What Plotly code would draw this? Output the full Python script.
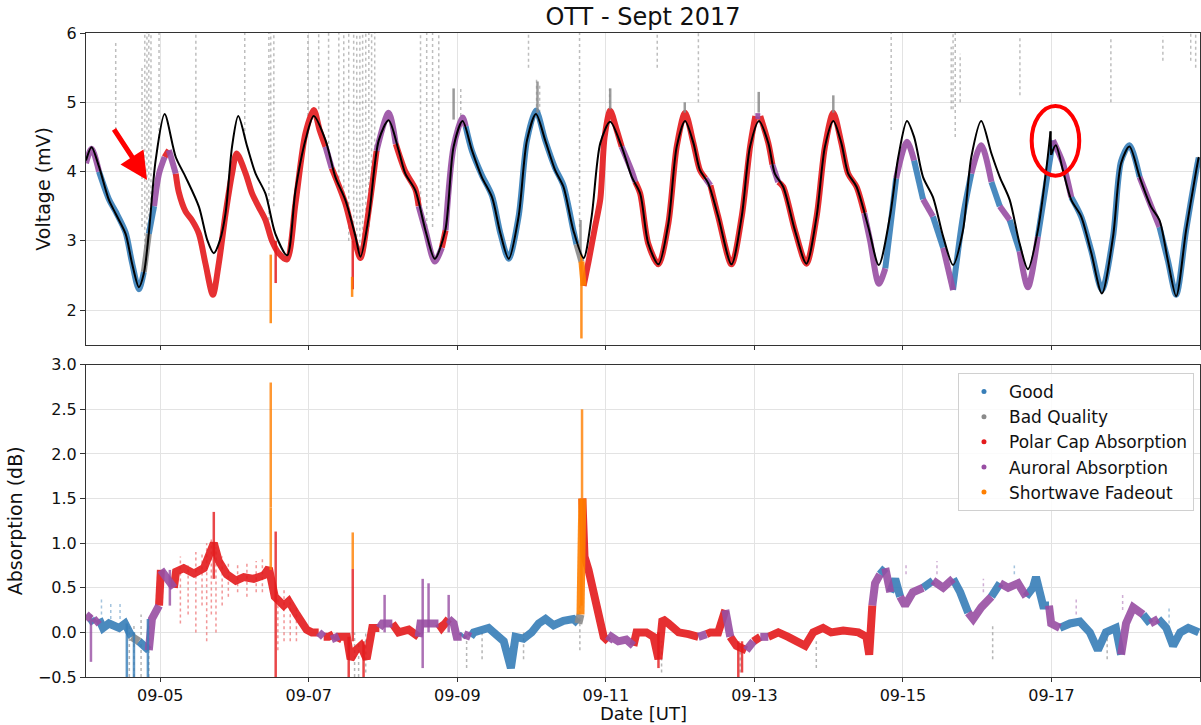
import pandas as pd
import plotly.graph_objects as go
from plotly.subplots import make_subplots

T0 = pd.Timestamp("2017-09-04 00:00")

# ---------------- quiet-day curve (black) ----------------
qdc_hours = [0.0, 1.8, 4.2, 7.4, 9.6, 12.8, 14.9, 17.1, 18.7, 20.3, 22.5, 25.4, 29.0, 32.2, 36.5, 39.2,
             41.3, 43.3, 45.1, 47.2, 49.2, 52.1, 54.8, 58.0, 61.2, 65.0, 67.7, 70.9, 73.6, 77.4, 80.6,
             83.8, 87.1, 88.7, 91.4, 94.6, 97.8, 101.0, 103.2, 106.4, 109.7, 112.7, 116.1, 118.8, 121.7,
             124.7, 127.9, 131.2, 133.9, 136.6, 139.8, 142.5, 145.4, 148.4, 151.6, 154.3, 157.5, 160.8,
             163.4, 166.2, 169.4, 173.1, 176.4, 179.1, 181.7, 185.0, 188.2, 190.9, 193.6, 196.3, 198.4,
             201.1, 204.3, 208.6, 211.9, 214.6, 217.5, 220.5, 222.6, 225.3, 229.1, 232.8, 236.1, 238.8,
             241.5, 244.1, 246.3, 249.0, 252.8, 256.2, 259.8, 262.5, 265.3, 267.6, 270.5, 273.7, 277.0,
             280.2, 283.4, 286.1, 289.3, 292.6, 295.3, 298.5, 301.7, 304.4, 307.6, 310.3, 311.7]
qdc_volts = [4.16, 4.35, 4.07, 3.59, 3.39, 3.10, 2.67, 2.33, 2.53, 3.11, 4.16, 4.83, 4.21, 3.92, 3.49, 3.01,
             2.82, 3.01, 3.40, 4.36, 4.80, 4.36, 3.97, 3.68, 3.10, 2.79, 3.73, 4.45, 4.80, 4.45, 3.92,
             3.59, 3.06, 2.77, 3.35, 4.45, 4.74, 4.31, 3.97, 3.73, 3.15, 2.74, 3.15, 4.36, 4.73,
             4.31, 3.92, 3.63, 3.11, 2.74, 3.35, 4.45, 4.83, 4.45, 4.02, 3.78, 3.15, 2.75,
             3.35, 4.41, 4.72, 4.36, 3.92, 3.68, 2.96, 2.66, 3.25, 4.36, 4.73, 4.41, 4.02,
             3.83, 3.35, 2.66, 3.35, 4.36, 4.73, 4.41, 3.97, 3.78, 3.15, 2.67, 3.35, 4.36,
             4.73, 4.41, 3.97, 3.78, 3.20, 2.65, 3.35, 4.21, 4.73, 4.50, 3.92, 3.63, 3.06,
             2.65, 3.15, 4.21, 4.73, 4.26, 3.92, 3.59, 2.96, 2.59, 3.15, 4.02, 4.58]
qdc2_hours = [311.9, 313.4, 315.7, 318.4, 321.6, 324.9, 328.3, 331.9, 334.5, 337.2, 340.5, 344.2, 346.9,
              349.6, 352.3, 355.5, 358.8, 359.6]
qdc2_volts = [4.24, 4.38, 4.02, 3.59, 3.35, 2.82, 2.24, 3.06, 4.12, 4.36, 3.92, 3.49, 3.30,
              2.72, 2.20, 3.15, 4.02, 4.21]

# ---------------- measured voltage (band) ----------------
# codes: G good, B bad quality, P polar cap, A auroral, S shortwave fadeout
volt_hours = [0.0, 1.8, 4.2, 7.4, 9.6, 12.8, 14.8, 17.1, 18.7, 20.3, 22.0, 23.6, 25.4, 26.8, 29.0, 30.0,
              32.2, 34.2, 36.5, 38.6, 41.0, 42.9, 45.1, 47.2, 48.7, 51.6, 53.7, 55.8, 58.0, 60.1, 62.3,
              64.9, 67.7, 70.9, 73.6, 75.5, 77.4, 79.4, 80.6, 83.8, 87.1, 88.7, 91.4, 93.9, 97.8, 100.1,
              103.2, 106.4, 107.5, 109.7, 112.7, 115.0, 116.2, 118.8, 121.7, 122.7, 124.7, 127.9, 131.2,
              133.9, 136.6, 139.8, 142.5, 145.4, 148.4, 151.6, 154.3, 157.5, 158.5, 160.1, 160.8, 162.4,
              164.5, 166.2, 167.6, 169.4, 171.5, 173.1, 176.4, 177.5, 179.1, 181.7, 185.0, 188.2, 190.9,
              193.6, 196.3, 198.4, 200.2, 201.8, 204.3, 208.6, 211.9, 214.6, 216.3, 217.9, 220.5, 221.8,
              223.7, 225.3, 229.1, 232.8, 236.1, 238.8, 241.5, 244.1, 246.3, 249.0, 251.5, 253.4, 256.2,
              258.3, 259.8, 261.8, 265.3, 267.6, 270.5, 273.7, 277.0, 280.2, 283.4, 286.1, 289.3, 292.6,
              295.3, 298.5, 301.7, 304.4, 307.6, 310.3, 312.5, 315.7, 318.4, 321.6, 324.9, 328.3, 331.9,
              334.5, 337.2, 340.5, 344.2, 346.9, 349.6, 352.3, 355.5, 358.8, 359.6]
volt_vals = [4.12, 4.33, 4.00, 3.60, 3.42, 3.12, 2.70, 2.30, 2.55, 3.10, 3.50, 3.97, 4.21, 4.31, 3.97, 3.70,
             3.42, 3.30, 3.10, 2.67, 2.22, 2.67, 3.39, 3.97, 4.26, 3.97, 3.68, 3.49, 3.30, 3.00, 2.82,
             2.73, 3.54, 4.55, 4.89, 4.60, 4.36, 4.05, 3.92, 3.54, 2.96, 2.75, 3.45, 4.30, 4.85, 4.40,
             4.00, 3.75, 3.50, 3.15, 2.70, 2.90, 3.15, 4.36, 4.78, 4.65, 4.30, 3.95, 3.65,
             3.11, 2.74, 3.35, 4.45, 4.88, 4.45, 4.05, 3.80, 3.15, 2.95, 2.70, 2.35, 2.70,
             3.20, 3.60, 4.50, 4.88, 4.60, 4.36, 4.00, 3.85, 3.68, 2.96, 2.66, 3.25, 4.36,
             4.85, 4.41, 4.02, 3.90, 3.80, 3.35, 2.66, 3.35, 4.36, 4.80, 4.80, 4.41, 4.10,
             3.85, 3.78, 3.15, 2.67, 3.35, 4.36, 4.85, 4.41, 3.97, 3.78, 3.40, 3.00, 2.38,
             2.60, 3.15, 3.90, 4.43, 4.16, 3.60, 3.35, 2.90, 2.29, 3.35, 3.97, 4.38, 3.85,
             3.50, 3.30, 2.85, 2.33, 3.06, 3.83, 4.45, 4.12, 3.63, 3.35, 2.85, 2.29, 3.06,
             4.15, 4.38, 3.92, 3.50, 3.20, 2.72, 2.22, 3.15, 4.02, 4.20]
volt_cat = ["A", "A", "G", "G", "G", "G", "G", "G", "B", "G", "A", "A", "P", "A", "P", "P",
            "P", "P", "P", "P", "P", "P", "P", "P", "P", "P", "P", "P", "P", "P", "P",
            "P", "P", "P", "P", "P", "A", "P", "P", "P", "P", "P", "P", "A", "A", "P",
            "P", "P", "A", "A", "A", "P", "A", "A", "A", "G", "G", "G", "G",
            "G", "G", "G", "G", "G", "G", "G", "G", "G", "B", "S", "P", "P",
            "P", "P", "P", "P", "P", "A", "A", "P", "P", "P", "P", "P", "P",
            "P", "P", "P", "A", "P", "P", "P", "P", "P", "A", "P", "P", "A",
            "P", "P", "P", "P", "P", "P", "P", "P", "P", "P", "A", "A", "A",
            "G", "G", "A", "A", "G", "A", "G", "A", "G", "G", "A", "A", "G",
            "A", "G", "A", "A", "G", "G", "A", "A", "G", "G", "G", "G", "G",
            "G", "G", "A", "A", "G", "G", "G", "G", "G", "G"]

# vertical excursions in the voltage panel: time, low, high, category
vspike_hours = [59.7, 61.3, 86.2, 86.0, 160.1, 159.8, 145.9, 118.8, 169.4, 193.5, 217.4, 241.5]
vspike_lo = [1.81, 2.39, 2.30, 2.19, 1.59, 2.80, 4.85, 4.75, 4.90, 4.85, 4.85, 4.85]
vspike_hi = [2.80, 3.00, 3.00, 2.48, 2.80, 3.30, 5.30, 5.20, 5.20, 5.00, 5.15, 5.10]
vspike_cat = ["S", "P", "P", "S", "S", "B", "B", "B", "B", "B", "B", "B"]

# bad-quality noise streaks in the voltage panel: time, low, high
vnoise_hours = [9.6, 18.1, 19.0, 19.7, 20.3, 21.0, 23.6, 35.5, 51.3, 59.1, 59.7, 60.7, 71.7, 75.2, 78.4,
                81.7, 83.3, 84.9, 86.5, 87.5, 88.5, 89.4, 90.4, 91.4, 92.3, 93.3, 108.1, 110.1, 112.0,
                114.0, 121.1, 143.0, 145.6, 146.6, 159.5, 169.2, 184.6, 197.9, 260.2, 279.6, 280.2,
                280.9, 282.5, 301.8, 331.2, 348.0, 357.0, 358.6]
vnoise_lo = [4.6, 3.2, 2.9, 2.7, 3.0, 3.5, 4.5, 4.2, 4.5, 3.3, 4.0, 3.5, 4.8, 4.9, 4.4,
             3.9, 3.5, 3.0, 2.9, 2.8, 2.8, 2.9, 3.0, 3.2, 3.6, 4.0, 3.5, 3.2, 3.2,
             3.5, 4.8, 5.5, 4.85, 4.85, 3.2, 4.9, 5.5, 5.0, 4.6, 4.9, 4.9,
             4.5, 5.0, 5.1, 5.0, 5.6, 5.6, 5.5]
vnoise_hi = [5.9, 5.5, 6.0, 6.0, 6.0, 6.0, 6.0, 6.0, 6.0, 6.0, 6.0, 6.0, 6.0, 6.0, 6.0,
             6.0, 6.0, 6.0, 6.0, 6.0, 6.0, 6.0, 6.0, 6.0, 6.0, 6.0, 6.0, 6.0, 6.0,
             6.0, 5.2, 6.0, 5.35, 5.25, 6.0, 5.2, 6.0, 6.0, 6.0, 5.8, 6.0,
             6.0, 5.7, 5.95, 5.95, 5.95, 6.0, 6.0]

# ---------------- absorption (band) ----------------
abs_hours = [0.0, 1.6, 2.6, 4.2, 5.5, 7.4, 10.7, 12.6, 14.8, 17.1, 19.0, 20.3, 21.3, 23.6, 24.2, 26.5,
             28.4, 29.1, 31.6, 34.9, 38.1, 40.4, 41.3, 42.9, 45.5, 48.4, 51.0, 54.2, 57.5, 59.1, 59.7,
             61.0, 63.9, 65.5, 68.1, 70.4, 71.3, 73.0, 75.2, 76.8, 78.4, 80.0, 81.0, 81.7, 84.3, 85.5,
             87.2, 88.8, 90.7, 92.5, 94.8, 95.8, 99.0, 101.0, 104.3, 107.5, 108.1, 113.9, 114.9, 117.2,
             118.8, 119.8, 121.4, 122.1, 124.3, 125.3, 130.1, 133.3, 135.0, 137.3, 138.8, 141.4, 144.0,
             146.3, 148.5, 151.1, 154.3, 157.5, 159.1, 159.8, 160.4, 161.1, 162.4, 164.0, 165.6, 167.3,
             168.8, 169.8, 172.0, 174.6, 176.9, 177.9, 181.1, 183.4, 185.0, 186.3, 188.2, 191.5, 194.7,
             197.9, 200.5, 201.8, 204.3, 206.6, 208.2, 210.2, 213.4, 215.7, 217.9, 220.5, 223.7, 226.9,
             230.2, 232.4, 235.0, 238.2, 240.8, 244.7, 249.6, 252.2, 253.1, 254.1, 255.0, 256.6, 258.3,
             259.9, 261.5, 263.1, 264.7, 267.2, 270.5, 273.7, 277.0, 280.2, 282.5, 285.1, 286.7, 289.3,
             292.6, 295.4, 298.0, 301.2, 303.8, 306.0, 307.0, 309.3, 311.2, 311.9, 314.7, 318.0, 321.2,
             324.4, 327.0, 329.6, 332.8, 334.5, 336.1, 338.4, 341.6, 343.9, 346.5, 349.1, 351.3, 353.6,
             356.2, 359.6]
abs_vals = [0.20, 0.15, 0.10, 0.15, 0.05, 0.10, 0.05, 0.10, -0.05, -0.10, -0.15, -0.20, 0.15, 0.30, 0.70, 0.60,
            0.50, 0.68, 0.72, 0.66, 0.72, 0.90, 1.00, 0.80, 0.65, 0.58, 0.62, 0.60, 0.64, 0.72, 0.60,
            0.40, 0.30, 0.35, 0.20, 0.05, 0.03, 0.00, 0.00, -0.05, -0.05, -0.02, -0.10, -0.05, -0.05, -0.30,
            -0.20, -0.15, -0.30, 0.05, 0.05, 0.10, 0.10, 0.00, 0.03, -0.05, 0.10, 0.10, 0.05, 0.15,
            0.10, -0.05, -0.05, -0.02, -0.05, 0.00, 0.05, -0.05, -0.10, -0.40, -0.05, -0.07, 0.00,
            0.10, 0.15, 0.08, 0.13, 0.15, 0.10, 0.20, 1.50, 0.85, 0.70, 0.45, 0.12, -0.05,
            -0.10, -0.05, -0.10, -0.08, -0.15, 0.00, 0.00, -0.05, -0.30, 0.15, 0.10, 0.00, -0.02,
            -0.05, -0.02, 0.00, 0.00, 0.25, -0.05, -0.15, -0.20, -0.10, -0.05, -0.05, 0.00, -0.05,
            -0.10, -0.15, 0.00, 0.05, 0.00, 0.02, 0.00, -0.05, -0.25, 0.30, 0.55, 0.65, 0.72,
            0.45, 0.60, 0.40, 0.30, 0.45, 0.50, 0.58, 0.50, 0.60, 0.45, 0.22, 0.15, 0.28,
            0.40, 0.55, 0.50, 0.55, 0.40, 0.50, 0.62, 0.30, 0.30, 0.10, 0.05, 0.10, 0.12,
            0.00, -0.20, 0.00, 0.05, -0.25, 0.10, 0.28, 0.20, 0.10, 0.15, 0.05, -0.15, 0.00,
            0.05, 0.00]
abs_cat = ["A", "G", "A", "G", "G", "G", "G", "G", "B", "G", "G", "A", "A", "P", "A", "A",
           "P", "P", "P", "P", "P", "P", "P", "P", "P", "P", "P", "P", "P", "P", "P",
           "P", "P", "P", "P", "P", "P", "P", "A", "P", "P", "A", "P", "P", "P", "P",
           "P", "P", "P", "P", "A", "A", "P", "P", "P", "A", "A", "P", "P", "A",
           "A", "A", "G", "A", "G", "G", "G", "G", "G", "G", "G", "G", "G",
           "G", "G", "G", "G", "G", "B", "S", "P", "P", "P", "P", "P", "P",
           "A", "A", "A", "A", "P", "P", "P", "P", "P", "P", "P", "P", "P",
           "A", "P", "P", "P", "A", "P", "P", "A", "P", "A", "P", "P", "P",
           "P", "P", "P", "P", "P", "P", "P", "P", "P", "A", "A", "G", "A",
           "G", "G", "A", "A", "A", "G", "A", "A", "G", "G", "A", "A", "A",
           "G", "A", "A", "A", "G", "G", "G", "G", "A", "A", "G", "G", "G",
           "G", "G", "G", "G", "A", "A", "A", "G", "A", "G", "G", "G", "G",
           "G", "G"]

# vertical excursions in the absorption panel: time, low, high, category
aspike_hours = [1.6, 13.2, 15.5, 20.0, 27.1, 41.3, 59.7, 59.7, 61.3, 84.9, 86.2, 86.2, 89.7, 96.5,
                108.8, 110.7, 117.2, 160.1, 160.3, 185.0, 210.8, 212.0]
aspike_lo = [-0.33, -0.50, -0.50, -0.50, 0.30, 0.60, 0.70, 1.40, -0.50, -0.50, -0.10, 0.71, -0.50, 0.00,
             -0.40, 0.00, 0.00, 0.30, 1.50, -0.40, -0.50, -0.45]
aspike_hi = [0.20, 0.10, 0.00, 0.15, 0.70, 1.35, 1.40, 2.80, 1.13, -0.05, 0.71, 1.12, -0.10, 0.42,
             0.60, 0.55, 0.42, 1.50, 2.50, 0.00, -0.10, -0.10]
aspike_cat = ["A", "G", "G", "G", "A", "P", "S", "S", "P", "P", "P", "S", "P", "A",
              "A", "A", "A", "S", "S", "P", "P", "P"]

# scattered points below/above the absorption band: time, low, high, category
ahaze_hours = [30.5, 33.0, 35.5, 37.5, 39.0, 40.5, 42.0, 44.0, 46.0, 49.0, 52.0, 55.0, 57.0, 62.0, 64.0,
               66.0, 68.0, 11.0, 8.0, 5.0, 265.0, 275.0, 290.0, 300.0, 320.0, 335.0, 350.0]
ahaze_lo = [0.10, 0.20, 0.00, 0.30, -0.10, 0.20, 0.00, 0.30, 0.40, 0.45, 0.40, 0.45, 0.45, -0.20, -0.10,
            -0.10, -0.10, 0.15, 0.15, 0.20, 0.65, 0.65, 0.45, 0.65, 0.20, 0.25, 0.10]
ahaze_hi = [0.85, 0.75, 0.90, 0.90, 1.00, 1.05, 0.95, 0.85, 0.80, 0.78, 0.80, 0.80, 0.85, 0.40, 0.50,
            0.40, 0.30, 0.35, 0.32, 0.38, 0.78, 0.80, 0.60, 0.75, 0.40, 0.45, 0.30]
ahaze_cat = ["P", "P", "P", "P", "P", "P", "P", "P", "P", "P", "P", "P", "P", "P", "P",
             "P", "P", "G", "G", "G", "A", "A", "A", "G", "A", "A", "G"]

# bad-quality noise streaks in the absorption panel: time, low, high
anoise_hours = [14.0, 15.5, 17.8, 20.3, 86.8, 88.1, 90.4, 123.0, 128.0, 141.4, 159.6, 186.0, 211.4, 236.0,
                293.0, 330.0]
anoise_lo = [-0.50, -0.50, -0.50, -0.50, -0.50, -0.50, -0.45, -0.40, -0.30, -0.30, -0.20, -0.45, -0.45,
             -0.40, -0.30, -0.30]
anoise_hi = [0.10, 0.10, 0.20, 0.10, 0.00, -0.10, 0.00, 0.00, 0.00, 0.00, 0.30, -0.10, -0.15, -0.10,
             0.10, 0.00]

CATS = ["G", "B", "P", "A", "S"]
NAMES = {"G": "Good", "B": "Bad Quality", "P": "Polar Cap Absorption",
         "A": "Auroral Absorption", "S": "Shortwave Fadeout"}
COLORS = {"G": "#377eb8", "B": "#8a8a8a", "P": "#e41a1c", "A": "#984ea3", "S": "#ff7f00"}


def to_dt(h):
    return (T0 + pd.Timedelta(hours=h)).to_pydatetime()


def band_segments(hours, vals, cats, code):
    xs, ys = [], []
    n = len(hours)
    i = 0
    while i < n - 1:
        if cats[i] == code:
            j = i
            while j < n - 1 and cats[j] == code:
                j += 1
            xs += [to_dt(h) for h in hours[i:j + 1]] + [None]
            ys += list(vals[i:j + 1]) + [None]
            i = j
        else:
            i += 1
    return xs, ys


def spikes(hours, lo, hi, cats=None, code=None):
    xs, ys = [], []
    for k, h in enumerate(hours):
        if cats is not None and cats[k] != code:
            continue
        xs += [to_dt(h), to_dt(h), None]
        ys += [lo[k], hi[k], None]
    return xs, ys


fig = make_subplots(rows=2, cols=1, shared_xaxes=True, vertical_spacing=0.03)

# noise streaks (dotted, to look like scattered points)
nx, ny = spikes(vnoise_hours, vnoise_lo, vnoise_hi)
fig.add_trace(go.Scatter(x=nx, y=ny, mode="lines",
                         line=dict(color="rgba(110,110,110,0.45)", width=1.5, dash="dot"),
                         showlegend=False, hoverinfo="skip"), row=1, col=1)
nx, ny = spikes(anoise_hours, anoise_lo, anoise_hi)
fig.add_trace(go.Scatter(x=nx, y=ny, mode="lines",
                         line=dict(color="rgba(110,110,110,0.5)", width=1.5, dash="dot"),
                         showlegend=False, hoverinfo="skip"), row=2, col=1)

# haze around absorption band
for code in CATS:
    hx, hy = spikes(ahaze_hours, ahaze_lo, ahaze_hi, ahaze_cat, code)
    if hx:
        fig.add_trace(go.Scatter(x=hx, y=hy, mode="lines",
                                 line=dict(color=COLORS[code], width=1.5, dash="dot"),
                                 opacity=0.45, showlegend=False, hoverinfo="skip"), row=2, col=1)

# bands
for code in CATS:
    bx, by = band_segments(volt_hours, volt_vals, volt_cat, code)
    if bx:
        fig.add_trace(go.Scatter(x=bx, y=by, mode="lines",
                                 line=dict(color=COLORS[code], width=6, shape="spline", smoothing=0.8),
                                 opacity=0.9, showlegend=False, hoverinfo="skip"), row=1, col=1)
    bx, by = band_segments(abs_hours, abs_vals, abs_cat, code)
    if bx:
        fig.add_trace(go.Scatter(x=bx, y=by, mode="lines",
                                 line=dict(color=COLORS[code], width=8),
                                 opacity=0.9, showlegend=False, hoverinfo="skip"), row=2, col=1)

# spikes
for code in CATS:
    sx, sy = spikes(vspike_hours, vspike_lo, vspike_hi, vspike_cat, code)
    if sx:
        fig.add_trace(go.Scatter(x=sx, y=sy, mode="lines", line=dict(color=COLORS[code], width=2.5),
                                 opacity=0.85, showlegend=False, hoverinfo="skip"), row=1, col=1)
    sx, sy = spikes(aspike_hours, aspike_lo, aspike_hi, aspike_cat, code)
    if sx:
        fig.add_trace(go.Scatter(x=sx, y=sy, mode="lines", line=dict(color=COLORS[code], width=2.5),
                                 opacity=0.8, showlegend=False, hoverinfo="skip"), row=2, col=1)

# quiet day curve
fig.add_trace(go.Scatter(x=[to_dt(h) for h in qdc_hours], y=qdc_volts, mode="lines",
                         line=dict(color="black", width=2, shape="spline", smoothing=0.8),
                         showlegend=False, hoverinfo="skip"), row=1, col=1)
fig.add_trace(go.Scatter(x=[to_dt(qdc_hours[-1]), to_dt(qdc2_hours[0])], y=[qdc_volts[-1], qdc2_volts[0]],
                         mode="lines", line=dict(color="black", width=2),
                         showlegend=False, hoverinfo="skip"), row=1, col=1)
fig.add_trace(go.Scatter(x=[to_dt(h) for h in qdc2_hours], y=qdc2_volts, mode="lines",
                         line=dict(color="black", width=2, shape="spline", smoothing=0.8),
                         showlegend=False, hoverinfo="skip"), row=1, col=1)

# legend entries
for code in CATS:
    fig.add_trace(go.Scatter(x=[None], y=[None], mode="markers", name=NAMES[code],
                             marker=dict(color=COLORS[code], size=5)), row=2, col=1)

FONT = "DejaVu Sans"
axis_common = dict(showline=True, linecolor="#333333", linewidth=1, mirror=True,
                   ticks="outside", ticklen=5, tickcolor="#333333",
                   showgrid=True, gridcolor="#e3e3e3", gridwidth=1, zeroline=False,
                   tickfont=dict(family=FONT, size=16, color="#111111"))

fig.update_xaxes(**axis_common)
fig.update_yaxes(**axis_common)
fig.update_xaxes(range=[T0.to_pydatetime(), to_dt(360)], dtick=2 * 86400000.0,
                 tick0="2017-09-05", tickformat="%m-%d", ticklen=4)
fig.update_yaxes(range=[1.5, 6], dtick=1, domain=[0.516, 1.0],
                 title=dict(text="Voltage (mV)", font=dict(family=FONT, size=19, color="#111111"), standoff=10),
                 row=1, col=1)
fig.update_yaxes(range=[-0.5, 3.0], dtick=0.5, tickformat=".1f", domain=[0.0, 0.485],
                 title=dict(text="Absorption (dB)", font=dict(family=FONT, size=19, color="#111111"), standoff=10),
                 row=2, col=1)

# x axis title as an annotation so it sits below the tick labels without moving the plot
fig.add_annotation(text="Date [UT]", x=0.5, y=-0.076, xref="paper", yref="paper",
                   xanchor="center", yanchor="bottom", showarrow=False,
                   font=dict(family=FONT, size=18, color="#111111"))

# annotation arrow and circle
fig.add_annotation(x=0.0548, y=0.7718, xref="paper", yref="paper", ax=-34, ay=-52,
                   showarrow=True, arrowhead=2, arrowsize=1.1, arrowwidth=5, arrowcolor="#ff0000",
                   text="", standoff=0)
fig.add_shape(type="circle", xref="paper", yref="paper", x0=0.8489, x1=0.8916, y0=0.7785, y1=0.8867,
              line=dict(color="#ff0000", width=4))

fig.update_layout(
    width=1201, height=725,
    margin=dict(l=86, r=1, t=33, b=48),
    plot_bgcolor="white", paper_bgcolor="white",
    font=dict(family=FONT, color="#111111"),
    title=dict(text="OTT - Sept 2017", x=0.5, xref="paper", y=1 - 17 / 725, yanchor="middle",
               font=dict(family=FONT, size=24, color="#111111")),
    legend=dict(x=0.9946, y=0.472, xanchor="right", yanchor="top", bgcolor="rgba(255,255,255,0.85)",
                bordercolor="#d0d0d0", borderwidth=1, font=dict(family=FONT, size=17, color="#111111"),
                itemwidth=40),
)

fig.write_html("out.html")
